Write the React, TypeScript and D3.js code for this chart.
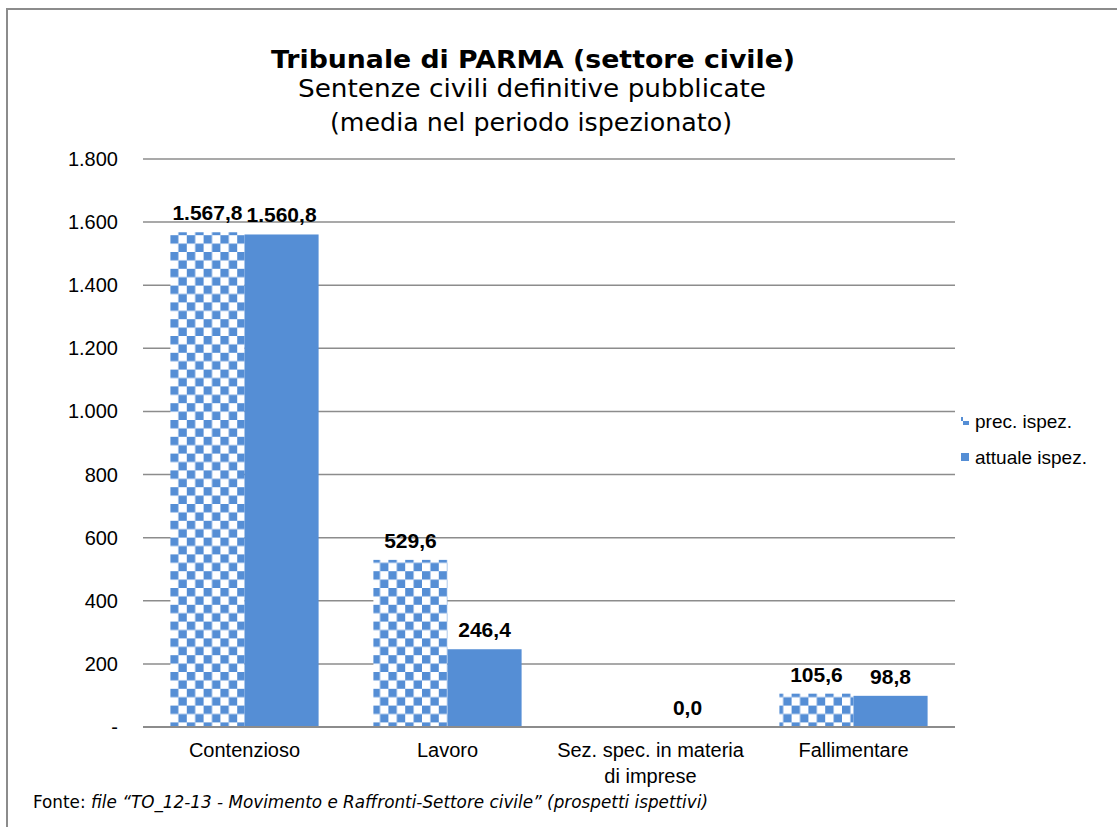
import React from "react";
import * as d3 from "d3";

const categories: string[][] = [
  ["Contenzioso"],
  ["Lavoro"],
  ["Sez. spec. in materia", "di imprese"],
  ["Fallimentare"],
];
const seriesNames = ["prec. ispez.", "attuale ispez."];
const precValues: (number | null)[] = [1567.8, 529.6, null, 105.6];
const attualeValues: (number | null)[] = [1560.8, 246.4, 0.0, 98.8];
const yTicks = [0, 200, 400, 600, 800, 1000, 1200, 1400, 1600, 1800];

const W = 1117;
const H = 827;
const BLUE = "#558ED5";
const ARIAL = "Liberation Sans, Arial, sans-serif";
const VERDANA = "DejaVu Sans, Verdana, sans-serif";

const itLocale = d3.formatLocale({ decimal: ",", thousands: ".", grouping: [3], currency: ["€", ""] });
const fmtTick = itLocale.format(",.0f");
const fmtVal = itLocale.format(",.1f");

export default function App() {
  const left = 143, right = 955, top = 159, bottom = 727;
  const y = d3.scaleLinear().domain([0, 1800]).range([bottom, top]);
  const x = d3.scaleBand<number>().domain(categories.map((_, i) => i)).range([left, right]).paddingInner(0.27).paddingOuter(0.135);
  const bw = x.bandwidth() / 2;
  const series = [precValues, attualeValues];

  return (
    <svg width={W} height={H} style={{ position: "absolute", left: 0, top: 0, background: "#fff" }}>
      <defs>
        <pattern id="checker" patternUnits="userSpaceOnUse" width={16.8} height={16.8} x={170} y={0}>
          <rect width={16.8} height={16.8} fill="#fff" />
          <rect x={0} y={0} width={8.4} height={8.4} fill={BLUE} />
          <rect x={8.4} y={8.4} width={8.4} height={8.4} fill={BLUE} />
        </pattern>
      </defs>
      <rect x={7} y={9} width={W + 10} height={H + 10} fill="none" stroke="#8c8c8c" strokeWidth={2} />
      <g fontFamily={VERDANA} textAnchor="middle" fill="#000">
        <text x={533} y={68} fontSize={24} fontWeight="bold" textLength={524} lengthAdjust="spacingAndGlyphs">Tribunale di PARMA (settore civile)</text>
        <text x={532} y={97} fontSize={24} textLength={468} lengthAdjust="spacingAndGlyphs">Sentenze civili definitive pubblicate</text>
        <text x={531} y={131} fontSize={24} textLength={402} lengthAdjust="spacingAndGlyphs">(media nel periodo ispezionato)</text>
      </g>
      {yTicks.map((t) => (
        <g key={t}>
          {t > 0 && <line x1={left} x2={right} y1={y(t)} y2={y(t)} stroke="#8c8c8c" strokeWidth={1.5} />}
          <text x={118} y={y(t)} dy="0.35em" textAnchor="end" fontFamily={ARIAL} fontSize={20}>
            {t === 0 ? "-" : fmtTick(t)}
          </text>
        </g>
      ))}
      {series.map((vals, si) =>
        vals.map((v, ci) => {
          if (v === null) return null;
          const bx = (x(ci) as number) + si * bw;
          return (
            <g key={`${si}-${ci}`}>
              <rect x={bx} y={y(v)} width={bw} height={bottom - y(v)} fill={si === 0 ? "url(#checker)" : BLUE} />
              <text x={bx + bw / 2} y={y(v) - 12} textAnchor="middle" fontFamily={ARIAL} fontSize={21} fontWeight="bold">
                {fmtVal(v)}
              </text>
            </g>
          );
        })
      )}
      <line x1={left} x2={right} y1={bottom} y2={bottom} stroke="#8c8c8c" strokeWidth={2} />
      {categories.map((lines, ci) => (
        <text key={ci} x={(x(ci) as number) + x.bandwidth() / 2} y={757} textAnchor="middle" fontFamily={ARIAL} fontSize={20}>
          {lines.map((l, li) => (
            <tspan key={li} x={(x(ci) as number) + x.bandwidth() / 2} dy={li === 0 ? 0 : 26}>{l}</tspan>
          ))}
        </text>
      ))}
      {seriesNames.map((n, i) => (
        <g key={n} transform={`translate(961, ${421 + i * 36})`}>
          <rect x={0} y={-4} width={8} height={8} fill={i === 0 ? "url(#checker)" : BLUE} />
          <text x={14} y={0} dy="0.35em" fontFamily={ARIAL} fontSize={19}>{n}</text>
        </g>
      ))}
      <text x={33} y={808} fontFamily={VERDANA} fontSize={16.8} textLength={675} lengthAdjust="spacingAndGlyphs">
        Fonte: <tspan fontStyle="italic">file “TO_12-13 - Movimento e Raffronti-Settore civile” (prospetti ispettivi)</tspan>
      </text>
    </svg>
  );
}
